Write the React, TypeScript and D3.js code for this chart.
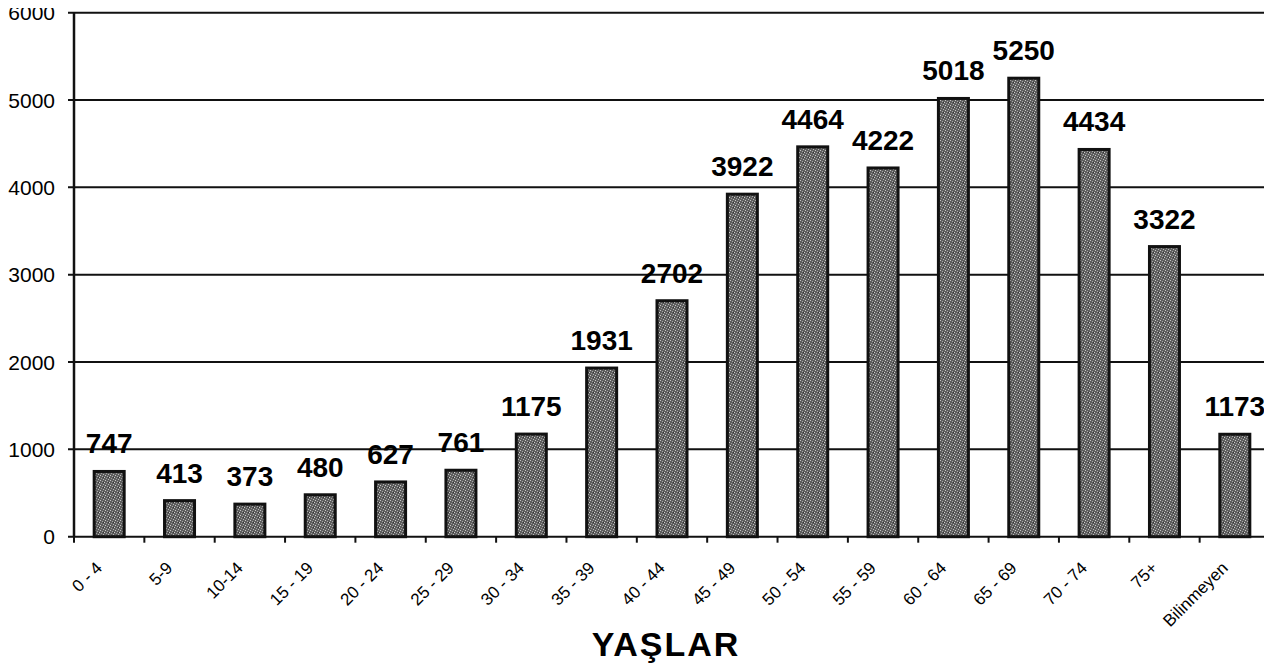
import React, { useEffect, useRef } from 'react';
import * as d3 from 'd3';

const categories = [
    '0 - 4', '5-9', '10-14', '15 - 19', '20 - 24', '25 - 29', '30 - 34', '35 - 39',
    '40 - 44', '45 - 49', '50 - 54', '55 - 59', '60 - 64', '65 - 69', '70 - 74', '75+', 'Bilinmeyen',
];
const values = [747, 413, 373, 480, 627, 761, 1175, 1931, 2702, 3922, 4464, 4222, 5018, 5250, 4434, 3322, 1173];
const yTicks = [0, 1000, 2000, 3000, 4000, 5000, 6000];
const axisTitle = 'YAŞLAR';

const Chart = () => {
    const ref = useRef<SVGSVGElement>(null);

    useEffect(() => {
        const width = 1272;
        const height = 671;
        const left = 74;
        const right = 1270;
        const top = 12.7;
        const bottom = 536.7;
        const font = 'Arial, "Liberation Sans", sans-serif';

        const svg = d3.select(ref.current).attr('width', width).attr('height', height);
        svg.selectAll('*').remove();

        // speckled grey fill like the scanned bars
        const defs = svg.append('defs');
        const pat = defs.append('pattern')
            .attr('id', 'speckle')
            .attr('width', 5)
            .attr('height', 5)
            .attr('patternUnits', 'userSpaceOnUse');
        pat.append('rect').attr('width', 5).attr('height', 5).attr('fill', '#5e5e5e');
        [[0, 0, '#c8c8c8'], [2, 1, '#a8a8a8'], [4, 2, '#d0d0d0'], [1, 3, '#9a9a9a'], [3, 4, '#b8b8b8'], [3, 2, '#333']]
            .forEach(([px, py, c]) => {
                pat.append('rect').attr('x', px).attr('y', py).attr('width', 1).attr('height', 1).attr('fill', c as string);
            });

        const x = d3.scaleBand().domain(categories).range([left, right]);
        const y = d3.scaleLinear().domain([0, 6000]).range([bottom, top]);

        // left border from the scanned page
        svg.append('rect')
            .attr('x', 5).attr('y', 0).attr('width', 2).attr('height', height)
            .attr('fill', '#222');

        // gridlines
        svg.append('g')
            .selectAll('line')
            .data(yTicks)
            .join('line')
            .attr('x1', left - 6)
            .attr('x2', right)
            .attr('y1', d => y(d))
            .attr('y2', d => y(d))
            .attr('stroke', '#111')
            .attr('stroke-width', 2);

        svg.append('g')
            .selectAll('text')
            .data(yTicks)
            .join('text')
            .attr('x', 55)
            .attr('y', d => y(d))
            .attr('dy', '0.36em')
            .attr('text-anchor', 'end')
            .style('font-family', font)
            .style('font-size', '21px')
            .text(d => d);

        // axes frame
        svg.append('line')
            .attr('x1', left).attr('x2', left).attr('y1', top).attr('y2', bottom)
            .attr('stroke', '#111').attr('stroke-width', 2.5);
        svg.append('line')
            .attr('x1', right).attr('x2', right).attr('y1', top).attr('y2', bottom)
            .attr('stroke', '#111').attr('stroke-width', 1.5);

        // x ticks between categories
        const edges = categories.map(c => x(c) as number).concat([right]);
        svg.append('g')
            .selectAll('line')
            .data(edges)
            .join('line')
            .attr('x1', d => d).attr('x2', d => d)
            .attr('y1', bottom).attr('y2', bottom + 6)
            .attr('stroke', '#111').attr('stroke-width', 2);

        const barW = 30;
        svg.append('g')
            .selectAll('rect')
            .data(values)
            .join('rect')
            .attr('x', (d, i) => (x(categories[i]) as number) + x.bandwidth() / 2 - barW / 2)
            .attr('y', d => y(d))
            .attr('width', barW)
            .attr('height', d => y(0) - y(d))
            .attr('fill', 'url(#speckle)')
            .attr('stroke', '#111')
            .attr('stroke-width', 3);

        svg.append('g')
            .selectAll('text')
            .data(values)
            .join('text')
            .attr('x', (d, i) => (x(categories[i]) as number) + x.bandwidth() / 2)
            .attr('y', d => y(d) - 18)
            .attr('text-anchor', 'middle')
            .style('font-family', font)
            .style('font-size', '28px')
            .style('font-weight', 'bold')
            .text(d => d);

        svg.append('g')
            .selectAll('text')
            .data(categories)
            .join('text')
            .attr('transform', d => 'translate(' + ((x(d) as number) + x.bandwidth() / 2 - 6) + ',' + 569 + ') rotate(-45)')
            .attr('text-anchor', 'end')
            .style('font-family', font)
            .style('font-size', '17px')
            .text(d => d);

        svg.append('text')
            .attr('x', 666)
            .attr('y', 656)
            .attr('text-anchor', 'middle')
            .style('font-family', font)
            .style('font-size', '34px')
            .style('font-weight', 'bold')
            .style('letter-spacing', '2px')
            .text(axisTitle);
    }, []);

    return <svg ref={ref} style={{ display: 'block' }}></svg>;
};

export default function App() {
    return (
        <div style={{ margin: -8 }}>
            <Chart />
        </div>
    );
}
